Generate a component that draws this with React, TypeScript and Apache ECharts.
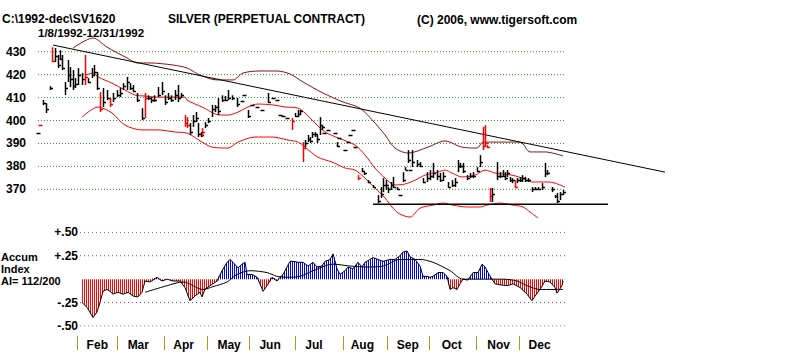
import React, { useEffect, useRef } from "react";
import * as echarts from "echarts";

const FONT = '"Liberation Sans", Arial, sans-serif';

// x unit: day of year 1992
const priceTicks = [430, 420, 410, 400, 390, 380, 370];
const accumTickValues = [0.5, 0.25, -0.25, -0.5];
const accumTickLabels = ["+.50", "+.25", "-.25", "-.50"];
const monthTickDays = [34, 61.5, 93.5, 123, 151.5, 183.5, 216, 246, 275, 307, 336];
const monthLabelDays = [48, 76, 107, 138, 166, 196, 229, 260, 290, 322, 350];
const monthNames = ["Feb", "Mar", "Apr", "May", "Jun", "Jul", "Aug", "Sep", "Oct", "Nov", "Dec"];
const priceGridSpan = [7.5, 368];
const accumGridSpan = [36.2, 368];

// [day, high, low, close]
const priceBars: number[][] = [
  [7.5, 394.5, 394.5, 394.5], [9, 398, 398, 398], [10.9, 409, 406.7, 407.5], [13, 407.6, 403.3, 405],
  [15.7, 415, 413.3, 414], [17.1, 432, 425.5, 426], [19.1, 431.6, 425.5, 428], [21.2, 428.6, 422.9, 424],
  [22.5, 430.7, 426.4, 427], [23.9, 428.6, 422, 423], [25.9, 416.8, 411.1, 414], [28, 426.4, 416.8, 420],
  [29.4, 423.3, 414.6, 418], [31.4, 422, 413.3, 415], [32.8, 418.5, 414.2, 416], [34.8, 422.9, 415.5, 420],
  [37.6, 420.7, 415.5, 418], [39.6, 428.6, 415.5, 419], [41.7, 418.5, 416.3, 417], [44.4, 422.9, 418.5, 420],
  [45.8, 424.2, 419.8, 421], [47.8, 421.2, 413.3, 414], [49.8, 412.4, 403.7, 405], [51.9, 414.2, 405.9, 408],
  [54.6, 413.3, 408.9, 410], [56.7, 409.8, 405.9, 407], [58.7, 412, 408.1, 410], [61.5, 413.3, 410.2, 411],
  [63.5, 414.2, 410.2, 412], [65.6, 416.3, 413.3, 415], [68.3, 419, 413.3, 417], [70.3, 416.3, 413.3, 414],
  [72.4, 415.5, 412.4, 413], [75.1, 412, 408.1, 409], [78.5, 405.4, 400.2, 401], [80.6, 412, 401.1, 410],
  [82.6, 411, 408.9, 410], [84.7, 410.2, 407.6, 409], [86.7, 411, 408.1, 409], [89.5, 414.6, 410.2, 411],
  [92.2, 416.8, 411.1, 413], [94.2, 411, 406.8, 408], [96.3, 412, 408.9, 410], [98.3, 411, 408.1, 409],
  [101.1, 413.3, 408.9, 411], [103.1, 415.5, 408.1, 410], [105.2, 412, 409.8, 411], [107.9, 402.4, 397.2, 399],
  [109.3, 401.5, 396.7, 398], [111.3, 398.9, 393.7, 395], [113.4, 402.4, 397.2, 400], [115.4, 403.7, 399.3, 401],
  [116.8, 398.9, 392.8, 394], [118.8, 395, 392.8, 393.5], [119.5, 396.7, 392.8, 395], [121.5, 399.3, 396.7, 398],
  [123.6, 401.1, 398.9, 400], [126.3, 406.8, 401.5, 405], [128.4, 406.8, 403.7, 406], [130.4, 409.8, 402.4, 404],
  [133.2, 411, 408.1, 409], [135.2, 410.7, 408.5, 409], [137.3, 413.3, 408.9, 410], [140, 411, 408.9, 410],
  [143.4, 409.8, 405.9, 407], [146.8, 408.5, 408.5, 408.5], [148, 411.1, 411.1, 411.1], [150.9, 404.6, 401.1, 402],
  [153.6, 406.8, 406.8, 406.8], [157.1, 405.9, 405.9, 405.9], [160.5, 404.6, 404.6, 404.6], [164.6, 412, 407.6, 408],
  [168, 409.8, 409.8, 409.8], [170.7, 408.9, 408.9, 408.9], [172.8, 402.4, 402.4, 402.4], [174.8, 402, 402, 402],
  [177.5, 401.1, 401.1, 401.1], [181, 401.1, 395.9, 400], [183, 403.3, 401.5, 402], [185.1, 404.6, 401.5, 403],
  [186.4, 404.6, 402.4, 404], [188.5, 390.6, 381.9, 388], [189.8, 391.5, 388.4, 390], [191.9, 393.7, 390.6, 392],
  [193.3, 392.8, 390.2, 391], [194.6, 395, 392.4, 394], [196.7, 395, 392.8, 394], [198, 393.7, 390.2, 392],
  [200.1, 401.5, 393.7, 398], [201.4, 398, 395.9, 397], [202.8, 394.5, 394.5, 394.5], [205.5, 395.9, 395.9, 395.9],
  [210.3, 394.5, 394.5, 394.5], [211.7, 390.6, 388.4, 389], [213, 392.4, 392.4, 392.4], [217.2, 387.1, 387.1, 387.1],
  [219.2, 390.6, 390.6, 390.6], [220.6, 393.7, 393.7, 393.7], [222.6, 395.9, 395.9, 395.9], [224, 388.4, 388.4, 388.4],
  [226, 376.2, 374, 375], [228.7, 379.3, 377.5, 378], [230.1, 377.5, 376.2, 377], [232.9, 374, 372.7, 373],
  [236.3, 371.9, 370.6, 371], [239.7, 367.5, 364, 365], [241.7, 371, 366.2, 368], [243.1, 374.9, 368.8, 372],
  [245.2, 374, 369.7, 372], [246.5, 371, 368.4, 370], [248.6, 373.2, 369.7, 372], [249.9, 375.4, 370.6, 371],
  [252.7, 371, 369.7, 370], [254.7, 367.5, 367.5, 367.5], [256.8, 377.5, 373.2, 374], [258.1, 379.7, 378.4, 378.5],
  [260.2, 387.1, 381.5, 383], [261.5, 378.4, 378.4, 378.4], [262.9, 387.1, 379.7, 382], [266.3, 382.8, 379.7, 381],
  [268.4, 381.9, 379.7, 380], [270.4, 374.9, 372.7, 373], [273.1, 377.5, 373.2, 375], [275.2, 378.4, 374, 376],
  [277.2, 381.5, 374.9, 377], [280, 378.4, 374, 376], [282, 377.1, 373.2, 374], [284.1, 377.5, 373.6, 376],
  [287.5, 373.2, 370.6, 371], [290.2, 374, 371, 372], [292.3, 374.9, 371, 373], [294.3, 382.8, 377.5, 380],
  [295.7, 381.5, 379.3, 380], [297.7, 381.5, 377.1, 378], [300.5, 376.2, 374, 375], [302.5, 377.1, 374.9, 376],
  [304.6, 377.5, 374.9, 376], [307.3, 379.7, 377.5, 378], [309.3, 384.9, 379.7, 382], [311.4, 397.2, 387.1, 389],
  [312.8, 398, 388.4, 390], [314.2, 389.3, 388, 388.5], [316.2, 370.6, 364.5, 367], [317.5, 370.6, 364.5, 368],
  [321, 381.9, 374, 376], [323, 377.5, 374.9, 376], [325, 378.4, 375.4, 376], [326.4, 377.5, 374, 375],
  [327.8, 378.4, 375.4, 377], [329.8, 375.4, 373.2, 374], [331.2, 374.9, 372.7, 374], [333.2, 374, 370.6, 371],
  [334.6, 374.9, 372.7, 374], [336.7, 375.4, 373.2, 374], [338, 376.2, 373.2, 375], [340.1, 375.4, 373.2, 374],
  [342.1, 374.9, 373.2, 374], [344.8, 371, 368.8, 370], [346.9, 371, 369.7, 370], [348.9, 371, 369.7, 370],
  [351.7, 372.7, 369.7, 371], [353.7, 381.5, 375.4, 377], [355.1, 378.4, 376.2, 377], [358.5, 371, 368.8, 370],
  [360.6, 367.5, 366.2, 367], [361.9, 368.4, 364, 365], [364, 368.8, 365.3, 368], [366, 369.7, 367.5, 369],
];
const redBarDays = [9, 17.1, 39.6, 49.8, 56.7, 80.6, 107.9, 109.3, 119.5, 181, 188.5, 226, 311.4, 312.8, 314.2, 316.2, 333.2];

const upperBand: number[][] = [
  [31.4, 431.6], [45.1, 436], [54.6, 432], [68.3, 427.3], [75.1, 425.1], [84, 425.1], [99.7, 424.2],
  [109.3, 422.9], [118.1, 419.8], [129.7, 417.7], [140.7, 417.7], [147.5, 420.7], [159.1, 421.6],
  [170.7, 421.6], [179.6, 420.3], [188.5, 416.8], [202.1, 412], [215.8, 408.1], [227.4, 405.4],
  [237.6, 398.9], [244.5, 393.7], [251.3, 388], [260.2, 385.8], [273.8, 388.4], [285.4, 391.1],
  [297, 388.4], [307.3, 388], [311.4, 390.6], [333.2, 390.6], [338, 390.2], [343.5, 386.3],
  [353.7, 386.3], [366, 384.6],
];
const middleBand: number[][] = [
  [39.6, 419.8], [45.1, 420.7], [48.5, 419], [58, 416.3], [66.9, 413.3], [73.8, 411.1], [79.9, 410.7],
  [89.5, 410.2], [107.9, 410.2], [109.3, 408.9], [119.5, 405.9], [131.8, 402.4], [137.3, 402.4],
  [144.1, 403.7], [150.9, 405.9], [157.7, 407.2], [168, 406.8], [176.2, 405.9], [185.1, 405.4],
  [189.8, 403.3], [196.7, 398.9], [203.5, 395], [212.4, 392.4], [224, 389.3], [230.8, 385],
  [237.6, 379.3], [244.5, 374.9], [251.3, 371.9], [258.1, 372.3], [265, 374], [271.8, 376.2],
  [280.7, 377.5], [285.4, 378.4], [290.2, 377.1], [297, 375.4], [305.9, 376.2], [312.8, 378.4],
  [319.6, 377.1], [331.2, 376.2], [338, 374.9], [344.8, 373.2], [355.8, 373.2], [360.6, 372.7], [367.4, 371],
];
const lowerBand: number[][] = [
  [37.6, 401.5], [48.5, 405.9], [58, 403.3], [66.9, 398], [78.5, 395.9], [89.5, 395.9], [101.1, 395],
  [109.3, 394.5], [119.5, 390.6], [126.3, 388.4], [137.3, 388], [144.1, 390.6], [155.7, 392.8],
  [167.3, 392.8], [178.2, 391.5], [185.1, 390.6], [189.8, 388.4], [198.7, 384], [208.3, 381.9],
  [217.2, 379.3], [224, 378.4], [230.8, 374.9], [237.6, 370.6], [244.5, 366.2], [249.9, 361.8],
  [254.7, 359.2], [261.5, 357.9], [268.4, 361.8], [277.2, 363.1], [284.1, 364], [290.9, 363.1],
  [300.5, 362.3], [309.3, 362.3], [314.1, 363.1], [323, 364], [331.9, 363.1], [338.7, 362.3],
  [343.5, 360.1], [349, 357.5],
];
const trendLine: number[][] = [[17.8, 432.9], [435.7, 377.5]];
const supportLine: number[][] = [[236.3, 363.5], [396.7, 363.5]];

const accumIndex: number[][] = [
  [37.6, -0.25], [41, -0.3], [45.1, -0.41], [47.8, -0.35], [49.8, -0.25], [51.9, -0.13], [54.6, -0.11],
  [56.7, -0.13], [58.7, -0.16], [62.1, -0.14], [65.6, -0.16], [69, -0.14], [72.4, -0.18], [75.8, -0.19],
  [78.5, -0.14], [80.6, -0.02], [84, -0.03], [88.8, 0.02], [92.2, -0.02], [95.6, 0], [99.7, -0.02],
  [104.5, -0.02], [107.9, -0.09], [111.3, -0.23], [114.7, -0.18], [118.1, -0.14], [119.5, -0.19],
  [121.5, -0.11], [125, -0.07], [129.7, -0.02], [133.2, 0.09], [136.6, 0.18], [138.6, 0.21], [140.7, 0.18],
  [144.1, 0.12], [146.8, 0.16], [148.9, 0.18], [150.2, 0.05], [153.6, 0.05], [157.1, 0.02], [159.1, -0.05],
  [161.2, -0.13], [163.9, -0.07], [167.3, 0.02], [170.7, -0.02], [172.8, 0.02], [174.8, 0.05], [179.6, 0.19],
  [181.6, 0.19], [185.1, 0.18], [188.5, 0.18], [191.9, 0.14], [195.3, 0.18], [198, 0.13], [201.4, 0.14],
  [203.5, 0.19], [206.9, 0.21], [209, 0.27], [211.7, 0.11], [213.7, 0.05], [217.2, 0.09], [219.2, 0.13],
  [222.6, 0.11], [226, 0.18], [228.7, 0.13], [230.8, 0.18], [234.2, 0.21], [236.3, 0.23], [239.7, 0.21],
  [243.1, 0.19], [247.9, 0.21], [251.3, 0.21], [254.7, 0.25], [256.8, 0.29], [259.5, 0.3], [261.5, 0.24],
  [265, 0.21], [268.4, 0.14], [270.4, 0.03], [273.1, 0.03], [275.2, 0.02], [277.2, 0.03], [280.7, 0.07],
  [284.1, 0.07], [286.8, 0.03], [288.9, -0.11], [290.9, -0.09], [293.6, -0.11], [295.7, -0.05], [297.7, 0],
  [301.1, -0.01], [304.6, 0.07], [308, 0.07], [310.7, 0.16], [312.8, 0.13], [314.8, 0.07], [317.5, 0],
  [319.6, -0.05], [323, -0.06], [327.8, -0.07], [331.9, -0.05], [336.7, -0.09], [341.5, -0.16],
  [344.8, -0.23], [346.9, -0.18], [350.3, -0.11], [353.7, -0.02], [357.1, -0.03], [360.6, -0.09],
  [361.9, -0.15], [365.3, -0.07], [366, -0.02],
];
const accumAverage: number[][] = [
  [80.6, -0.14], [95.6, -0.07], [106.5, -0.03], [120.2, -0.11], [127, -0.08], [136.6, -0.03], [143.4, 0.05],
  [152.3, 0.09], [163.9, 0.07], [170.7, 0.03], [177.5, 0.02], [186.4, 0.03], [195.3, 0.09], [209, 0.16],
  [220.6, 0.14], [232.2, 0.13], [243.1, 0.14], [254.7, 0.21], [268.4, 0.21], [277.2, 0.18], [288.9, 0.09],
  [297.7, 0], [307.3, 0], [316.2, 0], [325, 0], [334.6, -0.02], [341.5, -0.07], [350.3, -0.11], [366, -0.11],
];

const titleLeft = "C:\\1992-dec\\SV1620";
const titleMain = "SILVER (PERPETUAL CONTRACT)";
const titleCopy = "(C) 2006, www.tigersoft.com";
const titleRange = "1/8/1992-12/31/1992";
const accumLabel = ["Accum", "Index", "AI= 112/200"];

function stripe(color: string) {
  const svg = `<svg xmlns='http://www.w3.org/2000/svg' width='2' height='2'><rect x='0' y='0' width='1' height='2' fill='${color}'/></svg>`;
  return {
    image: "data:image/svg+xml;charset=utf-8," + encodeURIComponent(svg),
    repeat: "repeat",
    imageWidth: 2,
    imageHeight: 2,
  };
}

export default function App() {
  const ref = useRef<HTMLDivElement>(null);
  useEffect(() => {
    if (!ref.current) return;
    const chart = echarts.init(ref.current, undefined, { renderer: "svg" });
    const txt = (text: string, x: number, y: number, size: number) => ({
      type: "text",
      x,
      y,
      silent: true,
      style: { text, fill: "#000", font: `bold ${size}px ${FONT}`, verticalAlign: "middle", align: "left" },
    });
    const hline = (span: number[], v: number, color: string, xi: number, dash: number[]) => ({
      type: "line",
      xAxisIndex: xi,
      yAxisIndex: xi,
      data: [[span[0], v], [span[1], v]],
      symbol: "none",
      silent: true,
      z: 1,
      lineStyle: { color, width: 1, type: dash },
    });
    const bandLine = (data: number[][], color: string) => ({
      type: "line",
      xAxisIndex: 0,
      yAxisIndex: 0,
      data,
      symbol: "none",
      smooth: 0.3,
      silent: true,
      z: 2,
      lineStyle: { color, width: 1 },
    });
    const option: any = {
      animation: false,
      backgroundColor: "#ffffff",
      grid: [
        { left: 27, right: 114, top: 28.8, height: 206.4 },
        { left: 27, right: 114, top: 232.3, height: 93.7 },
      ],
      xAxis: [
        { gridIndex: 0, type: "value", min: 0, max: 450, show: false },
        {
          gridIndex: 1,
          type: "value",
          min: 0,
          max: 450,
          position: "bottom",
          offset: 10,
          axisLine: { show: false, onZero: false },
          splitLine: { show: false },
          axisTick: { show: true, customValues: monthTickDays, length: 14, lineStyle: { color: "#a3a31a", width: 1 } },
          axisLabel: {
            customValues: monthLabelDays,
            formatter: (v: number) => {
              const i = monthLabelDays.indexOf(v);
              return i >= 0 ? monthNames[i] : "";
            },
            margin: 3,
            color: "#000",
            fontWeight: "bold",
            fontSize: 12,
            fontFamily: FONT,
          },
        },
      ],
      yAxis: [
        {
          gridIndex: 0,
          type: "value",
          min: 350,
          max: 440,
          interval: 10,
          axisLine: { show: false },
          axisTick: { show: false },
          splitLine: { show: false },
          axisLabel: {
            formatter: (v: number) => (priceTicks.includes(v) ? String(v) : ""),
            margin: 1,
            color: "#000",
            fontWeight: "bold",
            fontSize: 12,
            fontFamily: FONT,
          },
        },
        {
          gridIndex: 1,
          type: "value",
          min: -0.5,
          max: 0.5,
          interval: 0.25,
          offset: -52,
          axisLine: { show: false },
          axisTick: { show: false },
          splitLine: { show: false },
          axisLabel: {
            formatter: (v: number) => {
              const i = accumTickValues.findIndex((t) => Math.abs(t - v) < 1e-6);
              return i >= 0 ? accumTickLabels[i] : "";
            },
            margin: 1,
            color: "#000",
            fontWeight: "bold",
            fontSize: 12,
            fontFamily: FONT,
          },
        },
      ],
      graphic: [
        txt(titleLeft, 2, 19, 12),
        txt(titleMain, 168, 19, 12),
        txt(titleCopy, 417, 20, 12),
        txt(titleRange, 38, 32.5, 11.5),
        txt(accumLabel[0], 1, 257, 11),
        txt(accumLabel[1], 1, 269, 11),
        txt(accumLabel[2], 1, 281, 11),
      ],
      series: [
        ...priceTicks.map((v) => hline(priceGridSpan, v, "#2f8f2f", 0, [1, 2])),
        ...accumTickValues.map((v) => hline(accumGridSpan, v, "#9a3a9a", 1, [1, 3])),
        bandLine(upperBand, "#8b1010"),
        bandLine(middleBand, "#ff0000"),
        bandLine(lowerBand, "#ff0000"),
        {
          type: "line",
          xAxisIndex: 0,
          yAxisIndex: 0,
          data: trendLine,
          symbol: "none",
          silent: true,
          z: 3,
          lineStyle: { color: "#000", width: 1 },
        },
        {
          type: "line",
          xAxisIndex: 0,
          yAxisIndex: 0,
          data: supportLine,
          symbol: "none",
          silent: true,
          z: 3,
          lineStyle: { color: "#000", width: 1.5 },
        },
        {
          type: "custom",
          xAxisIndex: 0,
          yAxisIndex: 0,
          z: 4,
          silent: true,
          data: priceBars.map((b) => [b[0], b[1], b[2], b[3], redBarDays.includes(b[0]) ? 1 : 0]),
          encode: { x: 0, y: [1, 2] },
          renderItem: (params: any, api: any) => {
            const d = api.value(0);
            const hi = api.value(1);
            const lo = api.value(2);
            const cl = api.value(3);
            const color = api.value(4) ? "#ff0000" : "#000000";
            const pH = api.coord([d, hi]);
            const pL = api.coord([d, lo]);
            const pC = api.coord([d, cl]);
            const x = Math.round(pH[0]) + 0.5;
            const yc = Math.round(pC[1]) + 0.5;
            if (hi === lo) {
              return {
                type: "line",
                shape: { x1: x - 2, y1: yc, x2: x + 2, y2: yc },
                style: { stroke: color, lineWidth: 1.5 },
              };
            }
            return {
              type: "group",
              children: [
                { type: "line", shape: { x1: x, y1: pH[1], x2: x, y2: pL[1] }, style: { stroke: color, lineWidth: 1.5 } },
                { type: "line", shape: { x1: x, y1: yc, x2: x + 2.5, y2: yc }, style: { stroke: color, lineWidth: 1.5 } },
              ],
            };
          },
        },
        {
          type: "line",
          xAxisIndex: 1,
          yAxisIndex: 1,
          data: accumIndex.map(([d, v]) => [d, v > 0 ? v : 0]),
          symbol: "none",
          silent: true,
          z: 2,
          lineStyle: { width: 0, opacity: 0 },
          areaStyle: { color: stripe("#0000ff"), opacity: 1 },
        },
        {
          type: "line",
          xAxisIndex: 1,
          yAxisIndex: 1,
          data: accumIndex.map(([d, v]) => [d, v < 0 ? v : 0]),
          symbol: "none",
          silent: true,
          z: 2,
          lineStyle: { width: 0, opacity: 0 },
          areaStyle: { color: stripe("#ff0000"), opacity: 1 },
        },
        {
          type: "line",
          xAxisIndex: 1,
          yAxisIndex: 1,
          data: accumIndex,
          symbol: "none",
          silent: true,
          z: 3,
          lineStyle: { color: "#000", width: 1 },
        },
        {
          type: "line",
          xAxisIndex: 1,
          yAxisIndex: 1,
          data: accumAverage,
          symbol: "none",
          smooth: 0.3,
          silent: true,
          z: 3,
          lineStyle: { color: "#000", width: 1 },
        },
      ],
    };
    chart.setOption(option);
    return () => chart.dispose();
  }, []);
  return (
    <div
      ref={ref}
      style={{ position: "fixed", left: 0, top: 0, width: 800, height: 354, background: "#fff" }}
    />
  );
}
